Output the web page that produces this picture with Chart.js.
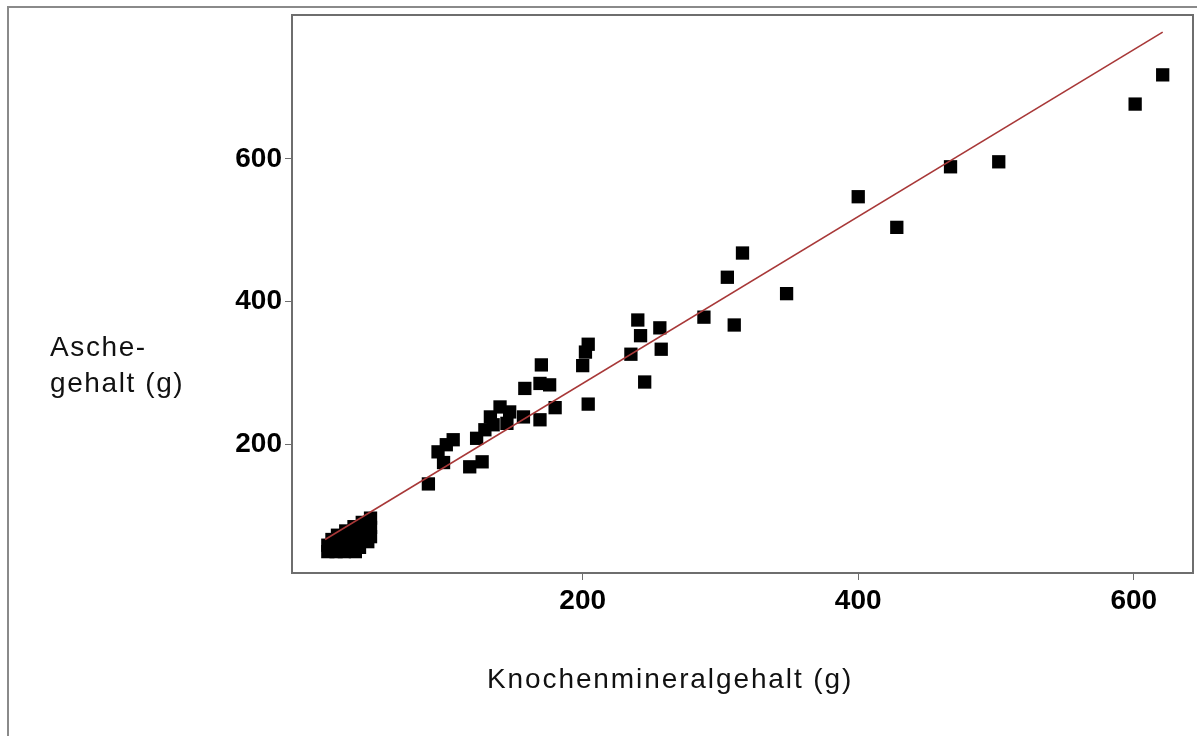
<!DOCTYPE html>
<html>
<head>
<meta charset="utf-8">
<script src="https://cdn.jsdelivr.net/npm/chart.js@4"></script>
<style>
  html, body { margin: 0; padding: 0; background: #fff; overflow: hidden; }
  #wrap { position: relative; width: 1197px; height: 736px; }
  #frame {
    position: absolute; left: 7px; top: 6px; right: -10px; bottom: -10px;
    border-left: 2px solid #8a8a8a; border-top: 2px solid #8a8a8a;
  }
  canvas { position: absolute; left: 0; top: 0; }
  .title {
    position: absolute; font-family: "Liberation Sans", Arial, sans-serif;
    font-size: 28px; color: #111; line-height: 36px;
  }
  #ytitle { left: 50px; top: 329px; letter-spacing: 1.6px; }
  #xtitle { left: 487px; top: 661px; letter-spacing: 1.9px; }
</style>
</head>
<body>
<div id="wrap">
  <div id="frame"></div>
  <canvas id="chart" width="1197" height="736"></canvas>
  <div class="title" id="ytitle">Asche-<br>gehalt (g)</div>
  <div class="title" id="xtitle">Knochenmineralgehalt (g)</div>
</div>
<script>
// Knochenmineralgehalt (g) per sample
const mineral = [
  15, 15, 18, 21, 22, 24, 27, 28, 30, 32, 34, 36, 38, 40, 42, 44, 46, 46, 46, 20, 35, 26,
  88, 95, 101, 106, 99, 118, 127, 123, 129, 133, 135, 140, 147, 145, 157, 158, 169, 176,
  169, 180, 170, 204, 200, 202, 204, 245, 235, 240, 242, 256, 257, 288, 305, 310, 316,
  348, 400, 428, 467, 502, 601, 621
];
// Aschegehalt (g) per sample
const ash = [
  49, 58, 66, 49, 72, 57, 49, 78, 64, 52, 84, 70, 55, 90, 76, 63, 96, 83, 70, 60, 49, 66,
  144, 189, 199, 206, 174, 168, 175, 208, 220, 238, 227, 252, 245, 229, 238, 278, 285, 283,
  234, 251, 311, 256, 310, 329, 340, 287, 326, 374, 352, 363, 333, 378, 434, 367, 468,
  411, 547, 504, 589, 596, 677, 718
];
// regression line end points
const fitX = [13, 621];
const fitY = [66, 778];

const xTicks = [200, 400, 600];
const yTicks = [200, 400, 600];

const points = mineral.map((x, i) => ({ x: x, y: ash[i] }));
const fitLine = fitX.map((x, i) => ({ x: x, y: fitY[i] }));

const tickFont = { family: "Liberation Sans", size: 28, weight: "bold" };

// gray box round the plot area
const plotFrame = {
  id: "plotFrame",
  afterDraw(chart) {
    const a = chart.chartArea;
    const ctx = chart.ctx;
    ctx.save();
    ctx.strokeStyle = "#6e6e6e";
    ctx.lineWidth = 2;
    ctx.strokeRect(a.left, a.top, a.right - a.left, a.bottom - a.top);
    ctx.restore();
  }
};

new Chart(document.getElementById("chart"), {
  type: "scatter",
  data: {
    datasets: [
      {
        type: "line",
        data: fitLine,
        borderColor: "#a83838",
        borderWidth: 1.6,
        pointRadius: 0,
        fill: false,
        order: 0
      },
      {
        data: points,
        pointStyle: "rect",
        pointRadius: 9.4,
        backgroundColor: "#000",
        borderWidth: 0,
        order: 1
      }
    ]
  },
  options: {
    responsive: false,
    animation: false,
    layout: { autoPadding: false, padding: { top: 15, right: 4, left: 0, bottom: 0 } },
    plugins: { legend: { display: false }, tooltip: { enabled: false } },
    scales: {
      x: {
        type: "linear",
        min: -11,
        max: 643,
        afterFit: s => {
          s.height = 163;
          s.paddingLeft = 0;
          s.paddingRight = 0;
        },
        afterBuildTicks: s => { s.ticks = xTicks.map(v => ({ value: v })); },
        border: { display: false },
        grid: { drawOnChartArea: false, drawTicks: true, tickLength: 7, color: "#6e6e6e", lineWidth: 1 },
        ticks: { color: "#000", font: tickFont, padding: 4, maxRotation: 0 }
      },
      y: {
        type: "linear",
        min: 19,
        max: 802,
        afterFit: s => {
          s.width = 292;
          s.paddingTop = 0;
          s.paddingBottom = 0;
        },
        afterBuildTicks: s => { s.ticks = yTicks.map(v => ({ value: v })); },
        border: { display: false },
        grid: { drawOnChartArea: false, drawTicks: true, tickLength: 7, color: "#6e6e6e", lineWidth: 1 },
        ticks: { color: "#000", font: tickFont, padding: 3 }
      }
    }
  },
  plugins: [plotFrame]
});
</script>
</body>
</html>
